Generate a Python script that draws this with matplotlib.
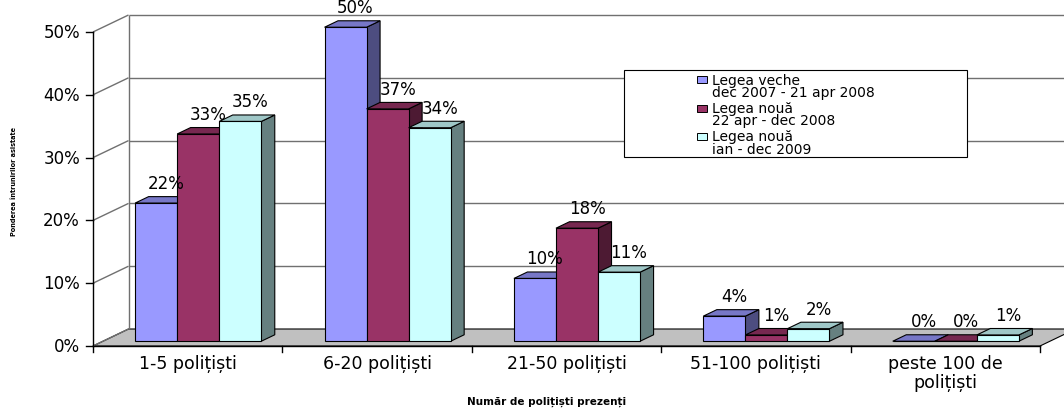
import matplotlib.pyplot as plt
from matplotlib.patches import Polygon, Rectangle
from matplotlib.colors import to_rgb

# Date: ponderea întrunirilor asistate, pe categorii de număr de polițiști
categories = ['1-5 polițiști', '6-20 polițiști', '21-50 polițiști',
              '51-100 polițiști', 'peste 100 de\npolițiști']
legea_veche = [22, 50, 10, 4, 0]
legea_noua_2008 = [33, 37, 18, 1, 0]
legea_noua_2009 = [35, 34, 11, 2, 1]
series = [legea_veche, legea_noua_2008, legea_noua_2009]
series_titles = ['Legea veche', 'Legea nouă', 'Legea nouă']
series_periods = ['dec 2007 - 21 apr 2008', '22 apr - dec 2008', 'ian - dec 2009']
y_ticks = [0, 10, 20, 30, 40, 50]

front_colors = ['#9999FF', '#993366', '#CCFFFF']

W, H = 1064, 414
PX_CAT = 189.4   # pixels per category
PX_PCT = 6.28    # pixels per percent
X0_PX, Y0_PX = 93, 347

# oblique depth of the walls, in data units
DX = 35.5 / PX_CAT
DY = 17 / PX_PCT
T_FRONT, T_BACK = 0.28, 0.66   # depth range occupied by the bars
BAR_W = 0.222
BAR_PAD = 0.17


def proj(x, y, t):
    return (x + t * DX, y + t * DY)


def shade(color, f):
    r, g, b = to_rgb(color)
    return (r * f, g * f, b * f)


def fx(px):
    return px / W


def fy(py):
    return 1 - py / H


fig = plt.figure(figsize=(W / 100, H / 100), dpi=100)
ax = fig.add_axes([0, 0, 1, 1])
ax.set_xlim(-X0_PX / PX_CAT, (W - X0_PX) / PX_CAT)
ax.set_ylim(-(H - Y0_PX) / PX_PCT, Y0_PX / PX_PCT)
ax.axis('off')

n = len(categories)
top = y_ticks[-1]
grid_kw = dict(color='#707070', lw=1.0, solid_capstyle='butt')

# floor
floor = [proj(0, 0, 0), proj(n, 0, 0), proj(n, 0, 1), proj(0, 0, 1)]
ax.add_patch(Polygon(floor, closed=True, facecolor='#C0C0C0',
                     edgecolor='black', lw=0.8, zorder=1))

# back wall gridlines and side wall
for v in y_ticks:
    if v > 0:
        a, b = proj(0, v, 1), proj(n + 0.3, v, 1)
        ax.plot([a[0], b[0]], [a[1], b[1]], zorder=1, **grid_kw)
    a, b = proj(0, v, 0), proj(0, v, 1)
    ax.plot([a[0], b[0]], [a[1], b[1]], zorder=1, **grid_kw)
a, b = proj(0, 0, 1), proj(0, top, 1)
ax.plot([a[0], b[0]], [a[1], b[1]], zorder=1, **grid_kw)

# front value axis
ax.plot([0, 0], [0, top], color='black', lw=1, zorder=3)
for v in y_ticks:
    ax.plot([-7 / PX_CAT, 0], [v, v], color='black', lw=1, zorder=3)
    ax.text(-13 / PX_CAT, v, f'{v}%', ha='right', va='center',
            fontsize=12, color='black')

# category axis
ax.plot([0, n], [0, 0], color='black', lw=1, zorder=3)
for i in range(n + 1):
    ax.plot([i, i], [0, -6 / PX_PCT], color='black', lw=1, zorder=3)
for i, cat in enumerate(categories):
    ax.text(i + 0.5, -8 / PX_PCT, cat, ha='center', va='top',
            fontsize=12.5, linespacing=1.1, color='black')

# 3D columns
for g in range(n):
    for s, vals in enumerate(series):
        v = vals[g]
        x0 = g + BAR_PAD + s * BAR_W
        x1 = x0 + BAR_W
        c = front_colors[s]
        front = [proj(x0, 0, T_FRONT), proj(x1, 0, T_FRONT),
                 proj(x1, v, T_FRONT), proj(x0, v, T_FRONT)]
        top_face = [proj(x0, v, T_FRONT), proj(x1, v, T_FRONT),
                    proj(x1, v, T_BACK), proj(x0, v, T_BACK)]
        side = [proj(x1, 0, T_FRONT), proj(x1, v, T_FRONT),
                proj(x1, v, T_BACK), proj(x1, 0, T_BACK)]
        z = 4 + g * 3 + s
        for face, f in ((side, 0.5), (top_face, 0.78), (front, 1.0)):
            ax.add_patch(Polygon(face, closed=True, facecolor=shade(c, f),
                                 edgecolor='black', lw=0.8,
                                 joinstyle='miter', zorder=z))
        lx, ly = proj(x0 + BAR_W / 2, v, T_FRONT)
        ax.text(lx + 10 / PX_CAT, ly + 20 / PX_PCT, f'{v}%',
                ha='center', va='center', fontsize=12, color='black',
                zorder=40)

# legend
fig.patches.append(Rectangle((fx(624), fy(158)), fx(967) - fx(624),
                             fy(71) - fy(158), transform=fig.transFigure,
                             facecolor='white', edgecolor='black', lw=0.8,
                             zorder=50))
for s in range(len(series)):
    y_first = 80.5 + s * 28.5
    fig.patches.append(Rectangle((fx(697), fy(y_first + 3.5)), fx(10),
                                 fy(0) - fy(7), transform=fig.transFigure,
                                 facecolor=front_colors[s], edgecolor='black',
                                 lw=0.7, zorder=51))
    fig.text(fx(712), fy(y_first - 7), series_titles[s] + '\n' + series_periods[s],
             ha='left', va='top', fontsize=10, linespacing=0.85, zorder=52)

# axis titles
fig.text(fx(14), fy(182), 'Ponderea întrunirilor asistate', rotation=90,
         ha='center', va='center', fontsize=4.7, fontweight='bold')
fig.text(fx(547), fy(402), 'Număr de polițiști prezenți', ha='center',
         va='center', fontsize=7.5, fontweight='bold')

fig.savefig('out.png', dpi=100)
